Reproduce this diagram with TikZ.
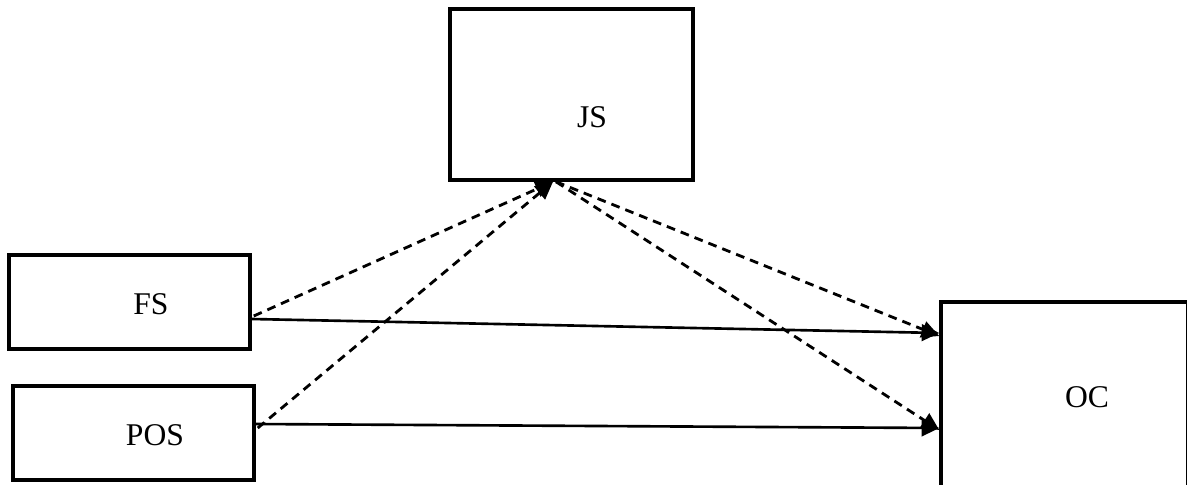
\documentclass[tikz,border=0pt]{standalone}
\usepackage{fontspec}
\setmainfont{Liberation Serif}
\usetikzlibrary{arrows.meta,calc}
\begin{document}
\begin{tikzpicture}[x=0.02cm,y=-0.02cm,
  box/.style={draw=black,line width=2pt,rectangle,inner sep=0pt,fill=none},
  lbl/.style={font=\fontsize{18}{21}\selectfont,inner sep=0pt},
  solidarrow/.style={line width=1.5pt,-{Triangle[length=10pt,width=9.5pt]}},
  dasharrow/.style={line width=1.6pt,dash pattern=on 5pt off 3.5pt,-{Triangle[length=10pt,width=9.5pt]}}]
\useasboundingbox (0,0) rectangle (1187,484);
\clip (0,0) rectangle (1187,484);
% boxes
\node[box,minimum width=4.86cm,minimum height=3.42cm] (js) at (571.5,94.5) {};
\node[box,minimum width=4.82cm,minimum height=1.88cm] (fs) at (129.5,302) {};
\node[box,minimum width=4.82cm,minimum height=1.88cm] (pos) at (133.5,433) {};
\node[box,minimum width=4.94cm,minimum height=5.2cm] (oc) at (1064.5,432) {};
% labels
\node[lbl] (jsl) at (592,117) {JS};
\node[lbl] (fsl) at (151,304) {FS};
\node[lbl] (posl) at (155,435) {POS};
\node[lbl] (ocl) at (1087,397) {OC};
% anchor points
\coordinate (fsA) at ($(fs.east)+(0,17)$);
\coordinate (fsD) at ($(fs.east)+(2,14)$);
\coordinate (posA) at ($(pos.east)+(0,-9)$);
\coordinate (posD) at ($(pos.east)+(2,-5)$);
\coordinate (jsL) at ($(js.south)+(-18.5,0)$);
\coordinate (jsR) at ($(js.south)+(-15.5,0)$);
\coordinate (ocA) at ($(oc.west)+(0,-99)$);
\coordinate (ocD) at ($(oc.west)+(0,-96)$);
\coordinate (ocB) at ($(oc.west)+(0,-4)$);
\coordinate (ocE) at ($(oc.west)+(0,-2)$);
% connectors
\draw[solidarrow] (fsA) -- (ocA);
\draw[solidarrow] (posA) -- (ocB);
\draw[dasharrow] (fsD) -- (jsL);
\draw[dasharrow] (posD) -- (jsL);
\draw[dasharrow] (jsR) -- (ocD);
\draw[dasharrow] (jsR) -- (ocE);
\end{tikzpicture}
\end{document}
